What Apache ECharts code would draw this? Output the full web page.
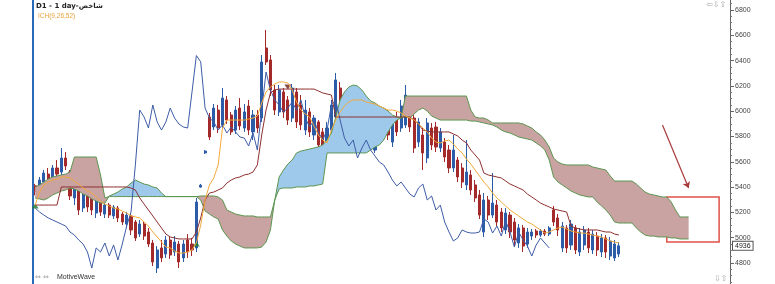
<!DOCTYPE html>
<html><head><meta charset="utf-8">
<script src="https://cdn.jsdelivr.net/npm/echarts@6/dist/echarts.min.js"></script>
<style>html,body{margin:0;padding:0;background:#fff}#c{width:775px;height:284px}</style>
</head><body><div id="c"></div>
<script>
const categories = Array.from({length:160},(_, i)=>'D'+(i+1));
// [open, close, low, high]
const candles = [
[5410,5365,5335,5425],[5377,5456,5361,5480],[5440,5511,5417,5535],[5503,5456,5432,5551],[5472,5551,5456,5575],
[5551,5503,5480,5614],[5519,5630,5496,5709],[5630,5567,5535,5677],[5519,5330,5298,5535],[5314,5393,5258,5417],
[5377,5219,5179,5417],[5235,5377,5203,5401],[5377,5243,5203,5409],[5338,5219,5179,5377],[5195,5298,5156,5330],
[5282,5203,5172,5314],[5187,5258,5156,5274],[5258,5179,5156,5274],[5172,5243,5148,5258],[5235,5156,5124,5251],
[5187,5124,5100,5203],[5108,5179,5077,5203],[5172,5061,5021,5187],[5124,4998,4974,5140],[5029,5108,5006,5140],
[5108,5013,4982,5132],[5045,4950,4926,5077],[4958,4808,4776,4982],[4760,4903,4721,4934],[4919,4840,4808,4982],
[4871,4982,4840,5013],[4982,4863,4832,5006],[4887,4966,4855,5013],[4950,4808,4760,4974],[4840,4950,4808,4982],
[4982,4887,4840,5029],[4950,4903,4855,4998],[4919,5282,4887,5314],[5400,5415,5395,5425],[5670,5685,5662,5692],
[5954,5796,5772,5986],[5875,6025,5851,6057],[6009,5867,5828,6049],[5891,6104,5867,6183],[6089,5930,5899,6120],
[5970,5836,5812,5994],[5851,6009,5820,6041],[6025,5883,5851,6104],[5867,5994,5836,6057],[6041,5851,5812,6089],
[5836,5970,5772,6009],[5970,5867,5828,6009],[5946,6389,5915,6444],[6500,6389,6365,6642],[6405,6168,6120,6444],
[6168,6009,5970,6207],[5994,6168,5962,6207],[6152,5994,5946,6183],[6089,5930,5891,6120],[5946,6183,5915,6215],
[6152,5915,5867,6183],[6049,5891,5851,6128],[5851,6009,5812,6089],[5994,5836,5796,6025],[5812,5946,5772,5970],
[5915,5733,5693,5930],[5836,5709,5677,5867],[5717,5867,5693,5915],[5851,6049,5812,6089],[5954,6247,5930,6302],
[6183,5994,5930,6231],[5930,6104,5891,6152],[6104,5946,5915,6152],[5915,6073,5875,6128],[6057,5891,5851,6089],
[5994,5851,5788,6049],[5812,5994,5772,6025],[5970,5772,5725,5994],[5693,5891,5670,5930],[5930,5788,5749,5970],
[5812,5994,5772,6025],[5970,5812,5772,6009],[5756,5915,5717,5946],[5946,5836,5804,5994],[5867,6041,5836,6089],
[5891,6128,5867,6207],[6025,5875,5836,6089],[5946,5709,5670,5970],[5756,5915,5717,5946],[5812,5670,5535,5867],
[5630,5907,5590,5946],[5867,5733,5693,5907],[5875,5717,5677,5915],[5709,5836,5677,5867],[5756,5638,5598,5788],
[5693,5551,5511,5733],[5551,5693,5519,5812],[5614,5480,5440,5638],[5551,5440,5393,5590],[5417,5519,5377,5772],
[5496,5377,5338,5535],[5417,5314,5282,5456],[5338,5179,5148,5377],[5045,5298,5006,5353],[5298,5179,5140,5330],
[5179,5274,5156,5511],[5258,5124,5092,5298],[5203,5077,5045,5235],[5061,5195,5029,5235],[5179,5045,4998,5203],
[5124,4982,4934,5156],[4958,5077,4919,5108],[5077,4934,4887,5100],[4950,5045,4919,5077],[5013,5045,4982,5069],
[5053,5021,4998,5069],[5021,5053,5006,5069],[5053,5029,5013,5069],[5029,5077,5013,5092],[5219,5124,5092,5251],
[5156,5061,5013,5187],[4919,5092,4887,5124],[5077,4919,4879,5100],[4942,5108,4903,5140],[5077,4903,4871,5100],
[4887,5045,4855,5077],[4942,5061,4903,5092],[5045,4919,4879,5077],[4903,5029,4871,5061],[5013,4903,4855,5045],
[4887,4998,4847,5029],[4998,4887,4840,5021],[4855,4974,4824,5006],[4840,4950,4816,4982],[4871,4936,4847,4966]
];
const tenkan = [
5258,5361,5417,5440,5456,5464,5480,5480,5472,5448,
5424,5393,5369,5353,5322,5290,5266,5251,5235,5227,
5211,5195,5172,5164,5156,5124,5092,5045,5006,4966,
4926,4919,4895,4879,4879,4887,4903,4958,5100,5298,
5417,5472,5575,5867,5930,5930,5930,5930,5930,5938,
5946,5962,6065,6152,6191,6215,6231,6231,6223,6168,
6073,6009,5978,5954,5883,5812,5772,5749,5851,5930,
5993,6041,6073,6089,6089,6089,6073,6065,6057,6041,
6025,6009,6009,6001,5986,5962,5946,5930,5899,5867,
5836,5788,5756,5749,5764,5772,5741,5701,5670,5622,
5582,5535,5488,5440,5401,5353,5314,5282,5251,5219,
5195,5172,5148,5124,5108,5084,5061,5037,5045,5061,
5077,5084,5069,5053,5045,5037,5037,5029,5021,5013,
5006,4990,4974,4966,4958];
const kijun = [
5258,5258,5258,5258,5258,5258,5401,5401,5401,5401,
5401,5401,5401,5401,5401,5401,5401,5401,5401,5401,
5401,5401,5393,5377,5314,5266,5219,5172,5124,5077,
5029,5006,4998,4990,4990,4990,4990,5045,5156,5298,
5353,5361,5377,5393,5432,5456,5472,5480,5496,5503,
5519,5575,5812,6009,6144,6168,6175,6175,6175,6175,
6175,6175,6175,6175,6175,6160,6144,6136,6128,5954,
5954,5954,5954,5954,5954,5954,5954,5954,5954,5954,
5954,5954,5954,5954,5954,5954,5954,5930,5899,5851,
5844,5836,5836,5836,5836,5836,5820,5804,5772,5749,
5693,5654,5614,5511,5496,5488,5480,5472,5448,5424,
5409,5393,5377,5345,5322,5298,5274,5258,5243,5227,
5219,5211,5203,5092,5077,5069,5061,5061,5061,5061,
5053,5045,5045,5029,5021];
const chikou = [
5235,5203,5179,5156,5140,5124,5108,5092,5045,5021,
4982,4950,4887,4760,4919,4887,4958,4855,4942,4824,
4950,5092,5203,5575,6009,5954,5867,6049,5915,5851,
5915,6025,5946,5899,5875,5867,6152,6440,6390,6025,
5946,5915,5851,5891,5828,5875,5836,5796,5788,5725,
5828,5693,6009,6310,6168,6089,6049,5993,6025,6073,
6009,6089,5946,5875,5930,5836,5772,5851,6049,6089,
5930,5788,5725,5772,5630,5709,5772,5693,5646,5598,
5575,5519,5456,5409,5440,5393,5345,5322,5393,5424,
5298,5330,5219,5258,5124,5045,4974,4998,5061,5045,
5037,5037,5045,5148,5124,5037,5092,5013,5132,5045,
4926,5045,4982,4934,4855,4942,4998,4958,4919];
const senkouA = [
5314,5306,5298,5314,5338,5353,5369,5377,5393,5385,
5369,5345,5330,5306,5290,5274,5274,5330,5345,5361,
5385,5401,5432,5456,5440,5424,5417,5401,5393,5353,
5325,5325,5325,5325,5325,5325,5325,5325,5298,5211,
5187,5164,5148,5061,5013,4974,4950,4934,4919,4919,
4919,4919,4926,4966,5061,5298,5480,5535,5582,5614,
5670,5685,5693,5701,5709,5717,5733,5772,5828,5954,
6089,6152,6191,6207,6199,6168,6120,6081,6065,6041,
6025,6001,5970,5954,5946,5962,5946,5978,6009,6025,
6001,5962,5946,5930,5930,5930,5930,5930,5930,5930,
5922,5922,5915,5907,5899,5891,5875,5851,5836,5828,
5812,5796,5788,5780,5772,5749,5725,5693,5614,5480,
5440,5417,5393,5369,5353,5338,5330,5322,5322,5282,
5251,5219,5179,5124,5116,5116,5116,5116,5077,5045,
5021,5013,5013,5006,5006,5006,4998,4998,4990,4990,
4990];
const senkouB = [
5401,5417,5440,5464,5480,5488,5496,5503,5519,5638,
5638,5638,5638,5638,5638,5496,5314,5325,5325,5325,
5325,5325,5325,5325,5325,5325,5325,5325,5325,5325,
5325,5325,5325,5325,5325,5325,5325,5325,5330,5330,
5330,5330,5322,5298,5219,5203,5187,5179,5172,5172,
5172,5164,5164,5164,5164,5298,5385,5393,5393,5393,
5401,5401,5401,5409,5409,5417,5424,5670,5670,5670,
5670,5670,5670,5670,5670,5670,5670,5693,5717,5733,
5772,5836,5891,5930,5946,6120,6120,6120,6120,6120,
6120,6120,6120,6120,6120,6120,6120,6120,6120,6120,
6009,5954,5946,5946,5930,5907,5907,5907,5907,5907,
5907,5907,5899,5883,5867,5836,5812,5772,5717,5630,
5598,5582,5575,5575,5575,5575,5575,5575,5559,5551,
5543,5535,5488,5448,5448,5448,5448,5448,5424,5393,
5361,5345,5338,5330,5322,5322,5282,5219,5164,5164,
5164];
const buySignals = [[0,5251],[37,4950],[73,5930]];
const sellSignals = [[11,5448],[58,6191],[77,5978]];
const yTickLabels = [4800,5000,5200,5400,5600,5800,6000,6200,6400,6600,6800];
const yMinorTicks = [4650,4700,4750,4850,4900,4950,5050,5100,5150,5250,5300,5350,5450,5500,5550,5650,5700,5750,5850,5900,5950,6050,6100,6150,6250,6300,6350,6450,6500,6550,6650,6700,6750,6850];
const yRange = [4634, 6879];
const arrowFrom = [144,5891], arrowTo = [150,5393];
const boxFrom = [145,5322], boxTo = [157,4966];
const titleText = 'D1 - 1 day-شاخص';
const indicatorText = 'ICH(9,26,52)';

const lastPrice = candles[candles.length-1][1];
const cloudBase = senkouA.map((a,i)=>Math.min(a,senkouB[i]));
const cloudBull = senkouA.map((a,i)=>Math.max(a-senkouB[i],0));
const cloudBear = senkouA.map((a,i)=>Math.max(senkouB[i]-a,0));

const chart = echarts.init(document.getElementById('c'), null, {renderer:'canvas'});
const lineBase = {type:'line', symbol:'none', silent:true, animation:false};
chart.setOption({
  animation:false,
  grid:{left:33, right:45, top:0, bottom:0, outerBoundsMode:'none', containLabel:false},
  xAxis:{type:'category', data:categories, boundaryGap:true, axisLine:{show:false}, axisTick:{show:false}, axisLabel:{show:false}, splitLine:{show:false}},
  yAxis:[
    {type:'value', position:'right', min:yRange[0], max:yRange[1],
     axisLine:{show:true, lineStyle:{color:'#666', width:1}},
     axisTick:{show:true, length:4, customValues:yTickLabels, lineStyle:{color:'#666'}},
     axisLabel:{fontSize:7, color:'#444', margin:5, fontFamily:'Liberation Sans', customValues:yTickLabels, formatter:v=>String(v)},
     splitLine:{show:false}},
    {type:'value', position:'left', min:yRange[0], max:yRange[1],
     axisLine:{show:true, lineStyle:{color:'#2a68b8', width:2}},
     axisTick:{show:false}, axisLabel:{show:false}, splitLine:{show:false}},
    {type:'value', position:'right', offset:0, min:yRange[0], max:yRange[1],
     axisLine:{show:false},
     axisTick:{show:true, length:2, customValues:yMinorTicks, lineStyle:{color:'#777'}},
     axisLabel:{show:false}, splitLine:{show:false}}
  ],
  series:[
    Object.assign({}, lineBase, {name:'base', stack:'cloud', data:cloudBase, lineStyle:{opacity:0}}),
    Object.assign({}, lineBase, {name:'bull', stack:'cloud', data:cloudBull, lineStyle:{opacity:0}, areaStyle:{color:'#9fc9ea', opacity:1}}),
    Object.assign({}, lineBase, {name:'bear', stack:'cloud', data:cloudBear, lineStyle:{opacity:0}, areaStyle:{color:'#c9a2a2', opacity:1},
      markArea:{silent:true, itemStyle:{color:'rgba(0,0,0,0)', borderColor:'#e0504a', borderWidth:1.5},
        data:[[{coord:[categories[boxFrom[0]], boxFrom[1]]},{coord:[categories[boxTo[0]], boxTo[1]]}]]}}),
    Object.assign({}, lineBase, {name:'senkouA', data:senkouA, lineStyle:{color:'#5c9650', width:1}}),
    Object.assign({}, lineBase, {name:'senkouB', data:senkouB, lineStyle:{color:'#5c9650', width:1}}),
    {type:'candlestick', name:'price', data:candles, barWidth:2.6, silent:true,
     itemStyle:{color:'#2c5ca8', color0:'#a3292b', borderColor:'#2c5ca8', borderColor0:'#a3292b', borderWidth:1},
     markLine:{silent:true, symbol:['none','none'], lineStyle:{color:'rgba(0,0,0,0)'},
       label:{show:true, position:'end', formatter:String(lastPrice), fontSize:7, color:'#222', fontFamily:'Liberation Sans',
              backgroundColor:'#fff', borderColor:'#555', borderWidth:1, padding:[1,2,0,2], distance:3},
       data:[{yAxis:lastPrice}]}},
    Object.assign({}, lineBase, {name:'chikou', data:chikou, lineStyle:{color:'#3d5ba6', width:1}}),
    Object.assign({}, lineBase, {name:'kijun', data:kijun, lineStyle:{color:'#8e2f2f', width:1}}),
    Object.assign({}, lineBase, {name:'tenkan', data:tenkan, lineStyle:{color:'#f2a93b', width:1},
      markLine:{silent:true, symbol:['none','arrow'], symbolSize:6, lineStyle:{color:'#a93a3a', width:1.2, type:'solid'}, label:{show:false},
        data:[[{coord:[categories[arrowFrom[0]], arrowFrom[1]]},{coord:[categories[arrowTo[0]], arrowTo[1]]}]]}}),
    {type:'scatter', name:'buy', data:buySignals, symbol:'triangle', symbolSize:[7,5], itemStyle:{color:'#1f7a30'}, silent:true},
    {type:'scatter', name:'sell', data:sellSignals, symbol:'triangle', symbolRotate:180, symbolSize:[7,5], itemStyle:{color:'#6e1d1d'}, silent:true}
  ],
  graphic:[
    {type:'text', left:36, top:3, style:{text:titleText, font:'bold 7px "DejaVu Sans"', fill:'#222'}},
    {type:'text', left:38, top:13, style:{text:indicatorText, font:'6.5px "Liberation Sans"', fill:'#e8a33c'}},
    {type:'text', left:35, top:274, style:{text:'⇔ ⇔', font:'7px "DejaVu Sans"', fill:'#999'}},
    {type:'text', left:57, top:274, style:{text:'MotiveWave', font:'7px "Liberation Sans"', fill:'#333'}},
    {type:'text', left:706, top:1, style:{text:'⇦⇩⇧', font:'8px "DejaVu Sans"', fill:'#aaa'}},
    {type:'text', left:714, top:275, style:{text:'⇩⇧', font:'8px "DejaVu Sans"', fill:'#aaa'}}
  ]
});
</script></body></html>
